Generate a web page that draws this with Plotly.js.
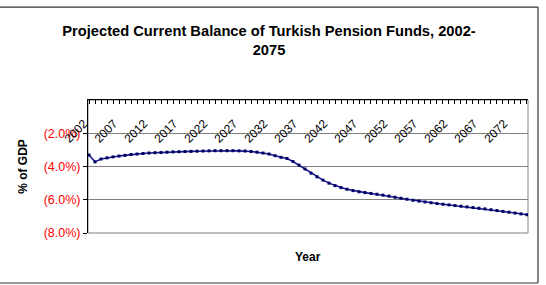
<!DOCTYPE html>
<html>
<head>
<meta charset="utf-8">
<script src="https://cdn.plot.ly/plotly-3.0.1.min.js"></script>
<style>
  html, body { margin: 0; padding: 0; background: #fff; }
  #chart { width: 546px; height: 285px; }
</style>
</head>
<body>
<div id="chart"></div>
<script>
// Projected current balance of Turkish pension funds, % of GDP
const years = [];
for (let y = 2002; y <= 2075; y++) years.push(y);

const balance = [
  -3.31, -3.72, -3.55, -3.48, -3.42, -3.37, -3.33, -3.28, -3.25, -3.22,
  -3.19, -3.17, -3.16, -3.14, -3.12, -3.11, -3.10, -3.09, -3.08, -3.07,
  -3.06, -3.05, -3.05, -3.05, -3.05, -3.06, -3.07, -3.10, -3.14, -3.19,
  -3.25, -3.35, -3.45, -3.52, -3.70, -3.92, -4.15, -4.40, -4.62, -4.82,
  -5.00, -5.15, -5.27, -5.37, -5.45, -5.52, -5.57, -5.62, -5.67, -5.72,
  -5.78, -5.85, -5.91, -5.97, -6.03, -6.08, -6.13, -6.18, -6.23, -6.27,
  -6.31, -6.35, -6.39, -6.43, -6.47, -6.51, -6.55, -6.60, -6.65, -6.70,
  -6.75, -6.80, -6.85, -6.90
];

const xLabelYears = [2002, 2007, 2012, 2017, 2022, 2027, 2032, 2037, 2042, 2047, 2052, 2057, 2062, 2067, 2072];
const yTickVals = [-8, -6, -4, -2];
const yTickText = ['(8.0%)', '(6.0%)', '(4.0%)', '(2.0%)'];

const FONT = 'Liberation Sans, Arial, sans-serif';
const xRange = [2001.83, 2075.17];

const trace = {
  x: years,
  y: balance,
  type: 'scatter',
  mode: 'lines+markers',
  line: { color: '#1a1a8c', width: 1.6 },
  marker: { symbol: 'square', size: 3, color: '#000066' },
  xaxis: 'x',
  yaxis: 'y',
  hoverinfo: 'skip'
};

// invisible helper trace so the label axis is drawn
const labelTrace = {
  x: [years[0]],
  y: [balance[0]],
  type: 'scatter',
  mode: 'markers',
  marker: { size: 0, opacity: 0 },
  xaxis: 'x2',
  yaxis: 'y',
  hoverinfo: 'skip',
  showlegend: false
};

// outer chart frame: top, right and bottom edges
const FX0 = -0.3, FX1 = 1.0227, FY0 = -0.376, FY1 = 1.699;
const frameLine = { color: '#333333', width: 1.2 };
const frame = [
  { type: 'line', xref: 'paper', yref: 'paper', x0: FX0, x1: FX1, y0: FY1, y1: FY1, line: frameLine, layer: 'below' },
  { type: 'line', xref: 'paper', yref: 'paper', x0: FX1, x1: FX1, y0: FY0, y1: FY1, line: frameLine, layer: 'below' },
  { type: 'line', xref: 'paper', yref: 'paper', x0: FX0, x1: FX1, y0: FY0, y1: FY0, line: frameLine, layer: 'below' }
];

const layout = {
  width: 546,
  height: 285,
  margin: { l: 88, r: 18, t: 100, b: 52 },
  paper_bgcolor: '#ffffff',
  plot_bgcolor: '#ffffff',
  showlegend: false,
  font: { family: FONT, size: 12, color: '#000' },
  title: {
    text: 'Projected Current Balance of Turkish Pension Funds, 2002-<br>2075',
    font: { family: FONT, size: 14.7, weight: 'bold', color: '#000' },
    x: 269 / 546,
    xanchor: 'center',
    xref: 'container',
    y: 1 - 36 / 285,
    yanchor: 'top',
    yref: 'container'
  },
  xaxis: {
    range: xRange,
    side: 'top',
    showline: true,
    linecolor: '#000',
    linewidth: 1,
    ticks: 'inside',
    ticklen: 4,
    tickcolor: '#000',
    tick0: 2002,
    dtick: 1,
    showticklabels: false,
    showgrid: false,
    zeroline: false,
    fixedrange: true
  },
  xaxis2: {
    range: xRange,
    overlaying: 'x',
    anchor: 'free',
    position: 0.90,
    side: 'bottom',
    showline: false,
    ticks: '',
    tickvals: xLabelYears,
    ticktext: xLabelYears.map(String),
    tickangle: -45,
    ticklabelshift: -5,
    tickfont: { family: FONT, size: 12, color: '#000' },
    showgrid: false,
    zeroline: false,
    fixedrange: true
  },
  yaxis: {
    range: [-8, 0],
    tickvals: yTickVals,
    ticktext: yTickText,
    tickfont: { family: FONT, size: 12.5, color: '#ff0000' },
    ticks: 'outside',
    ticklen: 4,
    tickcolor: '#000',
    showline: true,
    linecolor: '#000',
    linewidth: 1,
    showgrid: true,
    gridcolor: '#808080',
    gridwidth: 1,
    zeroline: false,
    title: {
      text: '% of GDP',
      font: { family: FONT, size: 12, weight: 'bold', color: '#000' },
      standoff: 13
    },
    fixedrange: true
  },
  shapes: [
    // plot-area border
    {
      type: 'rect', xref: 'paper', yref: 'paper',
      x0: 0, x1: 1, y0: 0, y1: 1,
      line: { color: '#808080', width: 1 },
      layer: 'below'
    }
  ].concat(frame),
  annotations: [
    {
      text: 'Year',
      xref: 'paper', yref: 'paper',
      x: 0.5, y: -0.18,
      xanchor: 'center', yanchor: 'middle',
      showarrow: false,
      font: { family: FONT, size: 12, weight: 'bold', color: '#000' }
    }
  ]
};

Plotly.newPlot('chart', [trace, labelTrace], layout, { displayModeBar: false, staticPlot: true });
</script>
</body>
</html>
